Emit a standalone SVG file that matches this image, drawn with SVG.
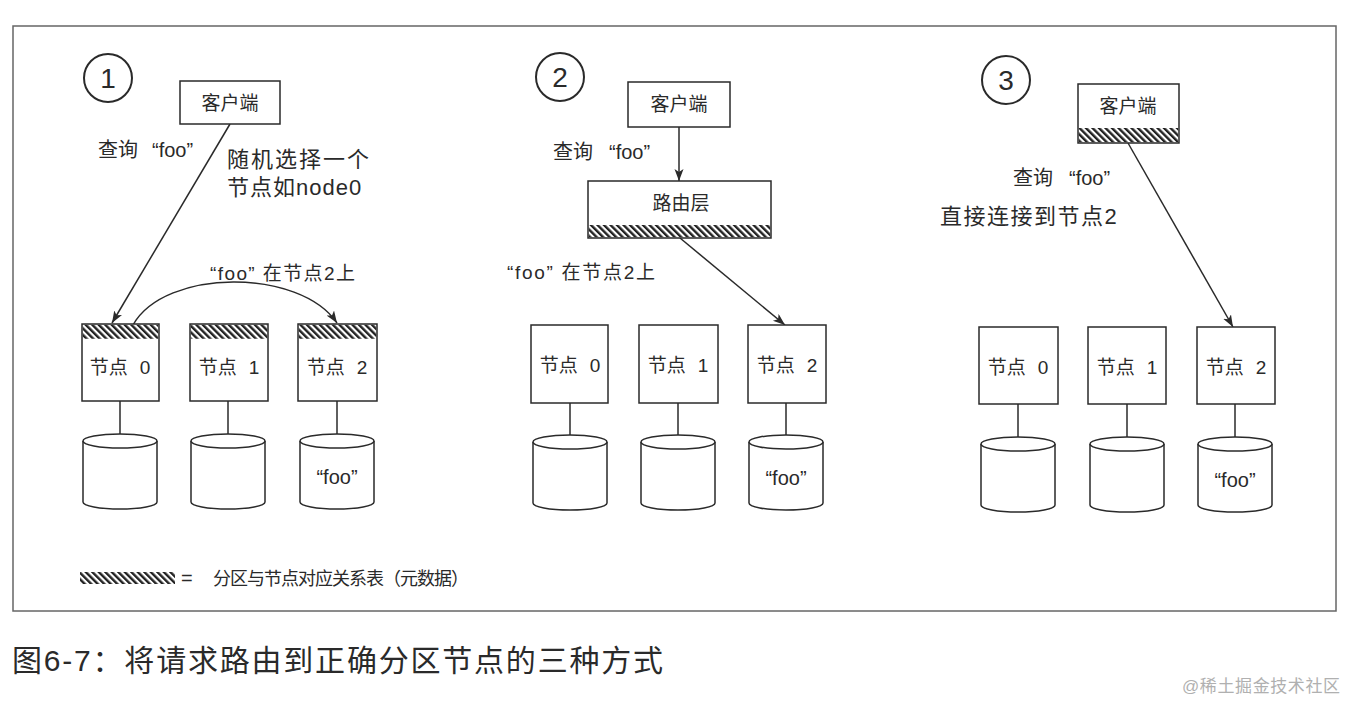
<svg xmlns="http://www.w3.org/2000/svg" width="1348" height="702" viewBox="0 0 1348 702">
<style>
text{font-family:"Liberation Sans","Noto Sans CJK SC",sans-serif;fill:#2a2a2a}
.box{fill:#fff;stroke:#2a2a2a;stroke-width:1.5}
.hatch{fill:url(#hatch);stroke:none}
.cyl{fill:#fff;stroke:#2a2a2a;stroke-width:1.5}
.link{stroke:#2a2a2a;stroke-width:1.5;fill:none}
.arrow{stroke:#2a2a2a;stroke-width:1.5;fill:none;marker-end:url(#ah)}
.num{stroke:#2a2a2a;stroke-width:2;fill:#fff}
.numt{font-size:28px;text-anchor:middle}
.lbl{font-size:19px;text-anchor:middle}
.lab{font-size:20px}
.foo{font-size:20px;text-anchor:middle}
</style>
<defs>
<pattern id="hatch" width="4.6" height="4.6" patternUnits="userSpaceOnUse" patternTransform="rotate(-45)">
<rect width="2.4" height="4.6" fill="#222"/>
</pattern>
<marker id="ah" markerUnits="userSpaceOnUse" markerWidth="14" markerHeight="10" refX="12" refY="4.5" orient="auto">
<path d="M0,0 L12,4.5 L0,9 L3,4.5 z" fill="#2a2a2a"/>
</marker>
</defs>
<rect width="1348" height="702" fill="#fff"/>
<rect x="13" y="26" width="1323" height="585" fill="none" stroke="#666" stroke-width="1.5"/>

<!-- section numbers -->
<g id="num1"><circle class="num" cx="108" cy="78" r="24"/><text class="numt" x="108" y="88">1</text></g>
<g id="num2"><circle class="num" cx="560" cy="77" r="24"/><text class="numt" x="560" y="87">2</text></g>
<g id="num3"><circle class="num" cx="1006" cy="80" r="24"/><text class="numt" x="1006" y="90">3</text></g>

<!-- connectors -->
<g id="connectors">
<line class="arrow" x1="230" y1="124" x2="112" y2="323"/>
<path class="arrow" d="M133,325 C165,268 300,268 337,323"/>
<line class="arrow" x1="679" y1="127" x2="679" y2="181"/>
<line class="arrow" x1="680" y1="238" x2="785" y2="325"/>
<line class="arrow" x1="1128" y1="143" x2="1233" y2="327"/>
<line class="link" x1="120" y1="401" x2="120" y2="434"/>
<line class="link" x1="228" y1="401" x2="228" y2="434"/>
<line class="link" x1="337" y1="401" x2="337" y2="434"/>
<line class="link" x1="570" y1="403" x2="570" y2="435"/>
<line class="link" x1="678" y1="403" x2="678" y2="435"/>
<line class="link" x1="786" y1="403" x2="786" y2="435"/>
<line class="link" x1="1018" y1="404" x2="1018" y2="437"/>
<line class="link" x1="1127" y1="404" x2="1127" y2="437"/>
<line class="link" x1="1235" y1="404" x2="1235" y2="437"/>
</g>

<!-- section 1 -->
<g id="client1"><rect class="box" x="180" y="81" width="100" height="43"/><text class="lbl" x="230" y="110">客户端</text></g>
<text class="lab" x="98" y="157">查询<tspan dx="14">“foo”</tspan></text>
<text x="227" y="167" font-size="22" letter-spacing="2">随机选择一个</text>
<text x="227" y="195" font-size="22" letter-spacing="1">节点如node0</text>
<text x="210" y="280" font-size="19" textLength="145" lengthAdjust="spacing">“foo” 在节点2上</text>

<g id="s1node0"><rect class="box" x="82" y="324" width="77" height="77"/><rect class="hatch" x="82.75" y="324.75" width="75.5" height="14"/><text class="lbl" x="120" y="374">节点<tspan dx="12">0</tspan></text></g>
<g id="s1node1"><rect class="box" x="190" y="324" width="78" height="77"/><rect class="hatch" x="190.75" y="324.75" width="76.5" height="14"/><text class="lbl" x="229" y="374">节点<tspan dx="12">1</tspan></text></g>
<g id="s1node2"><rect class="box" x="298" y="324" width="79" height="77"/><rect class="hatch" x="298.75" y="324.75" width="77.5" height="14"/><text class="lbl" x="337" y="374">节点<tspan dx="12">2</tspan></text></g>
<g id="s1db0"><path class="cyl" d="M83,441 L83,502 A37,7 0 0 0 157,502 L157,441"/><ellipse class="cyl" cx="120" cy="441" rx="37" ry="7"/></g>
<g id="s1db1"><path class="cyl" d="M191,441 L191,502 A37,7 0 0 0 265,502 L265,441"/><ellipse class="cyl" cx="228" cy="441" rx="37" ry="7"/></g>
<g id="s1db2"><path class="cyl" d="M300,441 L300,502 A37,7 0 0 0 374,502 L374,441"/><ellipse class="cyl" cx="337" cy="441" rx="37" ry="7"/><text class="foo" x="337" y="484">“foo”</text></g>

<!-- section 2 -->
<g id="client2"><rect class="box" x="628" y="82" width="102" height="45"/><text class="lbl" x="679" y="111">客户端</text></g>
<text class="lab" x="553" y="159">查询<tspan dx="16">“foo”</tspan></text>
<g id="router"><rect class="box" x="588" y="181" width="183" height="57"/><rect class="hatch" x="588.75" y="225" width="181.5" height="12.25"/><text class="lbl" x="681" y="210">路由层</text></g>
<text x="507" y="279" font-size="19" textLength="148" lengthAdjust="spacing">“foo” 在节点2上</text>

<g id="s2node0"><rect class="box" x="531" y="325" width="77" height="78"/><text class="lbl" x="570" y="372">节点<tspan dx="12">0</tspan></text></g>
<g id="s2node1"><rect class="box" x="639" y="325" width="79" height="78"/><text class="lbl" x="678" y="372">节点<tspan dx="12">1</tspan></text></g>
<g id="s2node2"><rect class="box" x="748" y="325" width="78" height="78"/><text class="lbl" x="787" y="372">节点<tspan dx="12">2</tspan></text></g>
<g id="s2db0"><path class="cyl" d="M533,442 L533,503 A37,7 0 0 0 607,503 L607,442"/><ellipse class="cyl" cx="570" cy="442" rx="37" ry="7"/></g>
<g id="s2db1"><path class="cyl" d="M641,442 L641,503 A37,7 0 0 0 715,503 L715,442"/><ellipse class="cyl" cx="678" cy="442" rx="37" ry="7"/></g>
<g id="s2db2"><path class="cyl" d="M749,442 L749,503 A37,7 0 0 0 823,503 L823,442"/><ellipse class="cyl" cx="786" cy="442" rx="37" ry="7"/><text class="foo" x="786" y="485">“foo”</text></g>

<!-- section 3 -->
<g id="client3"><rect class="box" x="1078" y="84" width="101" height="59"/><rect class="hatch" x="1078.75" y="128" width="99.5" height="14.25"/><text class="lbl" x="1128" y="113">客户端</text></g>
<text class="lab" x="1013" y="185" font-size="21">查询<tspan dx="16">“foo”</tspan></text>
<text x="940" y="224" font-size="22" letter-spacing="1.5">直接连接到节点2</text>

<g id="s3node0"><rect class="box" x="979" y="327" width="79" height="77"/><text class="lbl" x="1018" y="374">节点<tspan dx="12">0</tspan></text></g>
<g id="s3node1"><rect class="box" x="1088" y="327" width="78" height="77"/><text class="lbl" x="1127" y="374">节点<tspan dx="12">1</tspan></text></g>
<g id="s3node2"><rect class="box" x="1197" y="327" width="78" height="77"/><text class="lbl" x="1236" y="374">节点<tspan dx="12">2</tspan></text></g>
<g id="s3db0"><path class="cyl" d="M981,444 L981,505 A37,7 0 0 0 1055,505 L1055,444"/><ellipse class="cyl" cx="1018" cy="444" rx="37" ry="7"/></g>
<g id="s3db1"><path class="cyl" d="M1090,444 L1090,505 A37,7 0 0 0 1164,505 L1164,444"/><ellipse class="cyl" cx="1127" cy="444" rx="37" ry="7"/></g>
<g id="s3db2"><path class="cyl" d="M1198,444 L1198,505 A37,7 0 0 0 1272,505 L1272,444"/><ellipse class="cyl" cx="1235" cy="444" rx="37" ry="7"/><text class="foo" x="1235" y="487">“foo”</text></g>

<!-- legend -->
<g id="legend">
<rect class="hatch" x="80" y="572" width="95" height="12"/>
<text x="181" y="585" font-size="20">=</text>
<text x="213" y="585" font-size="18" textLength="256" lengthAdjust="spacing">分区与节点对应关系表（元数据）</text>
</g>

<!-- caption -->
<text x="12" y="671" font-size="30" textLength="651" lengthAdjust="spacing">图6-7：将请求路由到正确分区节点的三种方式</text>
<text x="1182" y="692" font-size="17" style="fill:#b0b0b0" textLength="158" lengthAdjust="spacing">@稀土掘金技术社区</text>
</svg>
